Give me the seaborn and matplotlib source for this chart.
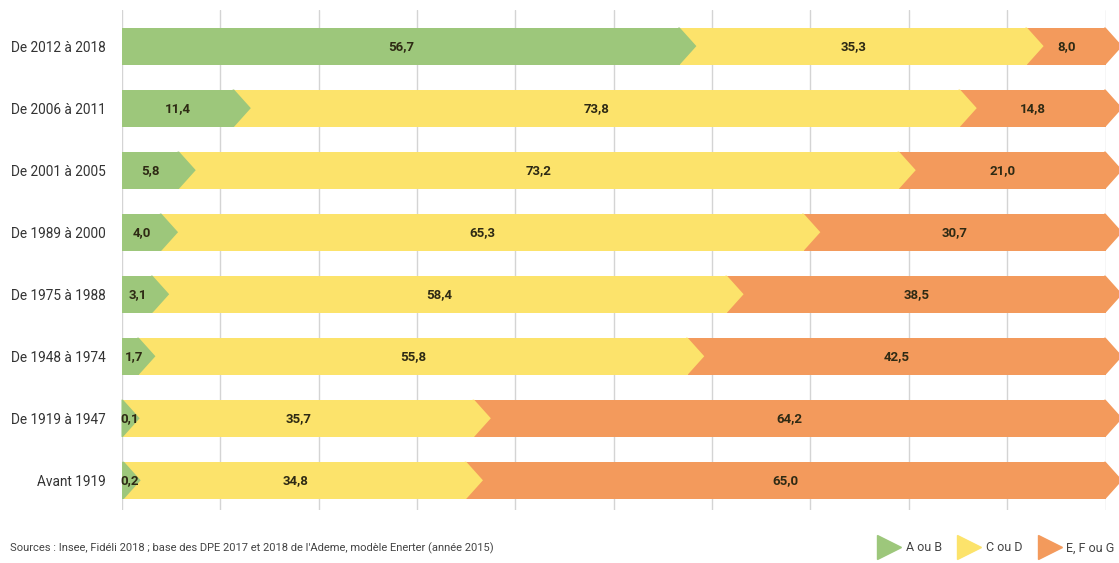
import numpy as np
import pandas as pd
import matplotlib.pyplot as plt
import seaborn as sns
from matplotlib.patches import Polygon
from matplotlib.lines import Line2D

periodes = ["De 2012 à 2018", "De 2006 à 2011", "De 2001 à 2005", "De 1989 à 2000",
            "De 1975 à 1988", "De 1948 à 1974", "De 1919 à 1947", "Avant 1919"]
ab = [56.7, 11.4, 5.8, 4.0, 3.1, 1.7, 0.1, 0.2]
cd = [35.3, 73.8, 73.2, 65.3, 58.4, 55.8, 35.7, 34.8]
efg = [8.0, 14.8, 21.0, 30.7, 38.5, 42.5, 64.2, 65.0]
classes = ["A ou B", "C ou D", "E, F ou G"]
couleurs = ["#9dc77b", "#fce36b", "#f39a5c"]

sns.set_style("white")
plt.rcParams['font.family'] = ['Roboto', 'DejaVu Sans']

df = pd.DataFrame({"periode": periodes, "ab": ab, "cd": cd, "efg": efg})
df["c1"] = df["ab"]
df["c2"] = df["ab"] + df["cd"]
df["c3"] = df["c2"] + df["efg"]

fig = plt.figure(figsize=(11.19, 5.63), dpi=100)
ax = fig.add_axes([0.109, 0.094, 0.879, 0.888])

h = 0.6
# stacked bars drawn from total down
for col, c in zip(["c3", "c2", "c1"], couleurs[::-1]):
    sns.barplot(data=df, x=col, y="periode", color=c, width=h, ax=ax,
                orient="h", saturation=1, linewidth=0, zorder=2)

# arrow tips
tip = 1.7
for col, c in zip(["c3", "c2", "c1"], couleurs[::-1]):
    for i, v in enumerate(df[col]):
        ax.add_patch(Polygon([(v - 0.15, i - h / 2), (v, i - h / 2), (v + tip, i),
                              (v, i + h / 2), (v - 0.15, i + h / 2)],
                             closed=True, color=c, lw=0, zorder=3, clip_on=False))

# value labels
for i in range(len(periodes)):
    starts = [0, df["c1"][i], df["c2"][i]]
    vals = [ab[i], cd[i], efg[i]]
    for k, (s, v) in enumerate(zip(starts, vals)):
        x = s + v / 2
        if k == 0:
            x = max(x, 0.7 + 0.3 * v)
        ax.text(x, i, f"{v:.1f}".replace(".", ","), ha="center", va="center",
                fontsize=9.5, fontweight="bold", color="#2e2a14", zorder=4)

ax.set_xlim(0, 100)
ax.set_ylim(7.48, -0.58)
ax.set_xticks(np.arange(0, 101, 10))
ax.grid(axis="x", color="#d4d4d4", lw=1, zorder=0)
ax.tick_params(axis="x", length=0, labelbottom=False)
ax.tick_params(axis="y", length=0, labelsize=9.8, labelcolor="#333333", pad=12)
ax.set_xlabel("")
ax.set_ylabel("")
sns.despine(ax=ax, left=True, bottom=True)

fig.text(0.009, 0.027, "Sources : Insee, Fidéli 2018 ; base des DPE 2017 et 2018 de l'Ademe, modèle Enerter (année 2015)",
         fontsize=8, color="#444444", va="center")

handles = [Line2D([], [], marker=">", ls="", color=c, markersize=17) for c in couleurs]
fig.legend(handles, classes, loc="center right", bbox_to_anchor=(1.0, 0.027), ncol=3,
           frameon=False, fontsize=9, handletextpad=0.3, columnspacing=1.2,
           handlelength=2.0, labelcolor="#444444", borderaxespad=0)

fig.savefig("out.png", dpi=100)
